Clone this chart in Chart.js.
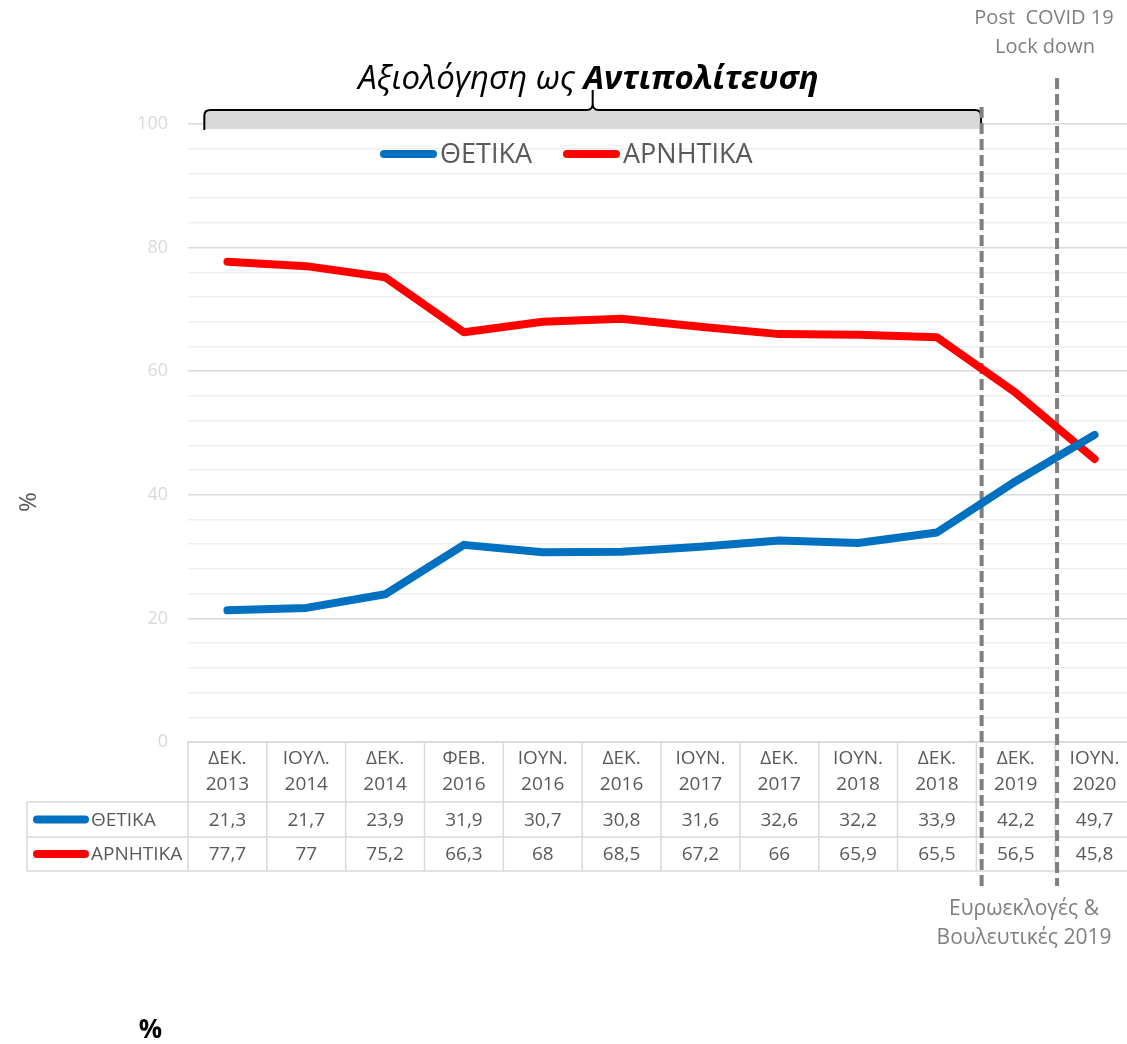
<!DOCTYPE html>
<html>
<head>
<meta charset="utf-8">
<script src="https://cdn.jsdelivr.net/npm/chart.js@4.4.1/dist/chart.umd.min.js"></script>
<style>
  html, body { margin: 0; padding: 0; background: #ffffff; overflow: hidden; }
  #wrap { width: 1127px; height: 1044px; position: relative; overflow: hidden; }
</style>
</head>
<body>
<div id="wrap"><canvas id="c" width="1141" height="1044"></canvas></div>
<script>
// ---------- DATA ----------
const categories = [
  ["ΔΕΚ.", "2013"], ["ΙΟΥΛ.", "2014"], ["ΔΕΚ.", "2014"], ["ΦΕΒ.", "2016"],
  ["ΙΟΥΝ.", "2016"], ["ΔΕΚ.", "2016"], ["ΙΟΥΝ.", "2017"], ["ΔΕΚ.", "2017"],
  ["ΙΟΥΝ.", "2018"], ["ΔΕΚ.", "2018"], ["ΔΕΚ.", "2019"], ["ΙΟΥΝ.", "2020"]
];
const positiveValues = [21.3, 21.7, 23.9, 31.9, 30.7, 30.8, 31.6, 32.6, 32.2, 33.9, 42.2, 49.7];
const negativeValues = [77.7, 77, 75.2, 66.3, 68, 68.5, 67.2, 66, 65.9, 65.5, 56.5, 45.8];
const seriesNames = ["ΘΕΤΙΚΑ", "ΑΡΝΗΤΙΚΑ"];
const yMin = 0, yMax = 100, yMinorStep = 4, yMajorStep = 20;
const titleParts = ["Αξιολόγηση ως ", "Αντιπολίτευση"];
const electionNote = ["Ευρωεκλογές &", "Βουλευτικές 2019"];
const covidNote = ["Post  COVID 19", "Lock down"];
const axisUnit = "%";

// ---------- STYLE ----------
const FONT = '"Open Sans", "Noto Sans", sans-serif';
const BLUE = '#0070C0', RED = '#FF0000';
const TEXT = '#595959', NOTE = '#7f7f7f', GRID = '#d9d9d9', MINOR = '#efefef';
// fractional category positions for annotations
const markerPos = [9.567, 10.524];
const braceRange = [-0.293, 9.56];

const annot = {
  id: 'annot',
  beforeDatasetsDraw(chart) {
    const ctx = chart.ctx, xs = chart.scales.x, ca = chart.chartArea;
    const n = categories.length;
    const w = xs.getPixelForValue(1) - xs.getPixelForValue(0);
    ctx.save();
    // ---- data table ----
    const top = ca.bottom, r1 = 802, r2 = 837, bot = 871, legL = 27;
    const colL = xs.getPixelForValue(0) - w / 2;
    const colR = xs.getPixelForValue(n - 1) + w / 2;
    ctx.strokeStyle = GRID; ctx.lineWidth = 1.5;
    ctx.beginPath();
    ctx.moveTo(colL, top); ctx.lineTo(colR, top);
    [r1, r2, bot].forEach(y => { ctx.moveTo(legL, y); ctx.lineTo(colR, y); });
    ctx.moveTo(legL, r1); ctx.lineTo(legL, bot);
    for (let i = 0; i <= n; i++) {
      const x = colL + i * w;
      ctx.moveTo(x, top); ctx.lineTo(x, bot);
    }
    ctx.stroke();
    ctx.font = '19px ' + FONT; ctx.fillStyle = TEXT;
    ctx.textBaseline = 'middle';
    const rows = [[positiveValues, BLUE, (r1 + r2) / 2], [negativeValues, RED, (r2 + bot) / 2]];
    rows.forEach((r, k) => {
      const [vals, col, y] = r;
      ctx.textAlign = 'center';
      ctx.fillStyle = TEXT;
      vals.forEach((v, i) => ctx.fillText(String(v).replace('.', ','), xs.getPixelForValue(i), y + 1));
      ctx.strokeStyle = col; ctx.lineWidth = 8; ctx.lineCap = 'round';
      ctx.beginPath(); ctx.moveTo(37, y); ctx.lineTo(85, y); ctx.stroke();
      ctx.textAlign = 'left';
      ctx.fillText(seriesNames[k], 91, y + 1);
    });
    // ---- brace / grey band ----
    const bL = xs.getPixelForValue(braceRange[0]), bR = xs.getPixelForValue(braceRange[1]);
    const bMid = (bL + bR) / 2, bTop = 110, bBot = 129;
    ctx.fillStyle = '#d9d9d9';
    ctx.fillRect(bL, bTop, bR - bL, bBot - bTop);
    ctx.strokeStyle = '#000'; ctx.lineWidth = 2; ctx.lineCap = 'butt';
    ctx.beginPath();
    ctx.moveTo(bL, bBot + 1); ctx.lineTo(bL, bTop + 6);
    ctx.quadraticCurveTo(bL, bTop, bL + 6, bTop);
    ctx.lineTo(bMid - 6, bTop);
    ctx.quadraticCurveTo(bMid, bTop, bMid, bTop - 6);
    ctx.lineTo(bMid, bTop - 20);
    ctx.moveTo(bMid, bTop - 6);
    ctx.quadraticCurveTo(bMid, bTop, bMid + 6, bTop);
    ctx.lineTo(bR - 6, bTop);
    ctx.quadraticCurveTo(bR, bTop, bR, bTop + 6);
    ctx.lineTo(bR, bBot + 1);
    ctx.stroke();
    // ---- dashed markers ----
    ctx.strokeStyle = NOTE; ctx.lineWidth = 4; ctx.setLineDash([11, 5]);
    const m1 = xs.getPixelForValue(markerPos[0]), m2 = xs.getPixelForValue(markerPos[1]);
    ctx.beginPath();
    ctx.moveTo(m1, 107); ctx.lineTo(m1, 886);
    ctx.moveTo(m2, 78); ctx.lineTo(m2, 886);
    ctx.stroke();
    ctx.setLineDash([]);
    // ---- notes ----
    ctx.fillStyle = NOTE; ctx.textAlign = 'center'; ctx.textBaseline = 'middle';
    ctx.font = '20px ' + FONT;
    ctx.fillText(covidNote[0], 1044, 18);
    ctx.fillText(covidNote[1], 1045, 47);
    ctx.font = '21px ' + FONT;
    ctx.fillText(electionNote[0], 1024, 909);
    ctx.fillText(electionNote[1], 1024, 938);
    // ---- title ----
    ctx.fillStyle = '#000';
    ctx.textBaseline = 'alphabetic';
    ctx.font = 'italic 33px ' + FONT;
    const w1 = ctx.measureText(titleParts[0]).width;
    ctx.font = 'italic bold 33px ' + FONT;
    const w2 = ctx.measureText(titleParts[1]).width;
    const tx = 588.5 - (w1 + w2) / 2;
    ctx.textAlign = 'left';
    ctx.font = 'italic 33px ' + FONT;
    ctx.fillText(titleParts[0], tx, 89);
    ctx.font = 'italic bold 33px ' + FONT;
    ctx.fillText(titleParts[1], tx + w1, 89);
    // ---- axis unit labels ----
    ctx.save();
    ctx.translate(29, 502); ctx.rotate(-Math.PI / 2);
    ctx.fillStyle = TEXT; ctx.font = '24px ' + FONT; ctx.textAlign = 'center'; ctx.textBaseline = 'middle';
    ctx.fillText(axisUnit, 0, 0);
    ctx.restore();
    ctx.fillStyle = '#000'; ctx.font = 'bold 26px ' + FONT; ctx.textAlign = 'center'; ctx.textBaseline = 'middle';
    ctx.fillText(axisUnit, 150.5, 1031);
    ctx.restore();
  },
  afterDraw(chart) {
    const ctx = chart.ctx;
    ctx.save();
    ctx.font = '27px ' + FONT; ctx.textBaseline = 'middle'; ctx.textAlign = 'left';
    const items = [[seriesNames[0], BLUE, 384], [seriesNames[1], RED, 567]];
    items.forEach(([t, c, x]) => {
      ctx.strokeStyle = c; ctx.lineWidth = 8; ctx.lineCap = 'round';
      ctx.beginPath(); ctx.moveTo(x, 154); ctx.lineTo(x + 49, 154); ctx.stroke();
      ctx.fillStyle = TEXT; ctx.fillText(t, x + 56, 155);
    });
    ctx.restore();
  }
};

new Chart(document.getElementById('c'), {
  type: 'line',
  data: {
    labels: categories,
    datasets: [
      { label: seriesNames[0], data: positiveValues, borderColor: BLUE, backgroundColor: BLUE,
        borderWidth: 8, pointRadius: 0, tension: 0, borderCapStyle: 'round', borderJoinStyle: 'round' },
      { label: seriesNames[1], data: negativeValues, borderColor: RED, backgroundColor: RED,
        borderWidth: 8, pointRadius: 0, tension: 0, borderCapStyle: 'round', borderJoinStyle: 'round' }
    ]
  },
  options: {
    responsive: false, animation: false,
    layout: { padding: { top: 124, right: 7, left: 0, bottom: 0 } },
    plugins: { legend: { display: false }, tooltip: { enabled: false } },
    scales: {
      x: {
        offset: true,
        grid: { display: false, drawTicks: false },
        border: { display: false },
        ticks: { font: { size: 19, family: FONT, lineHeight: 1.37 }, color: TEXT, padding: 4,
                 maxRotation: 0, autoSkip: false },
        afterFit(s) { s.height = 1044 - 742; }
      },
      y: {
        min: yMin, max: yMax,
        ticks: { stepSize: yMinorStep, autoSkip: false, font: { size: 18, family: FONT }, color: GRID, padding: 20,
                 callback: v => (v % yMajorStep === 0 ? v : '') },
        grid: { color: c => (c.tick.value % yMajorStep === 0 ? GRID : MINOR), lineWidth: 1.5, drawTicks: false },
        border: { display: false },
        afterFit(s) { s.width = 188; }
      }
    }
  },
  plugins: [annot]
});
</script>
</body>
</html>
